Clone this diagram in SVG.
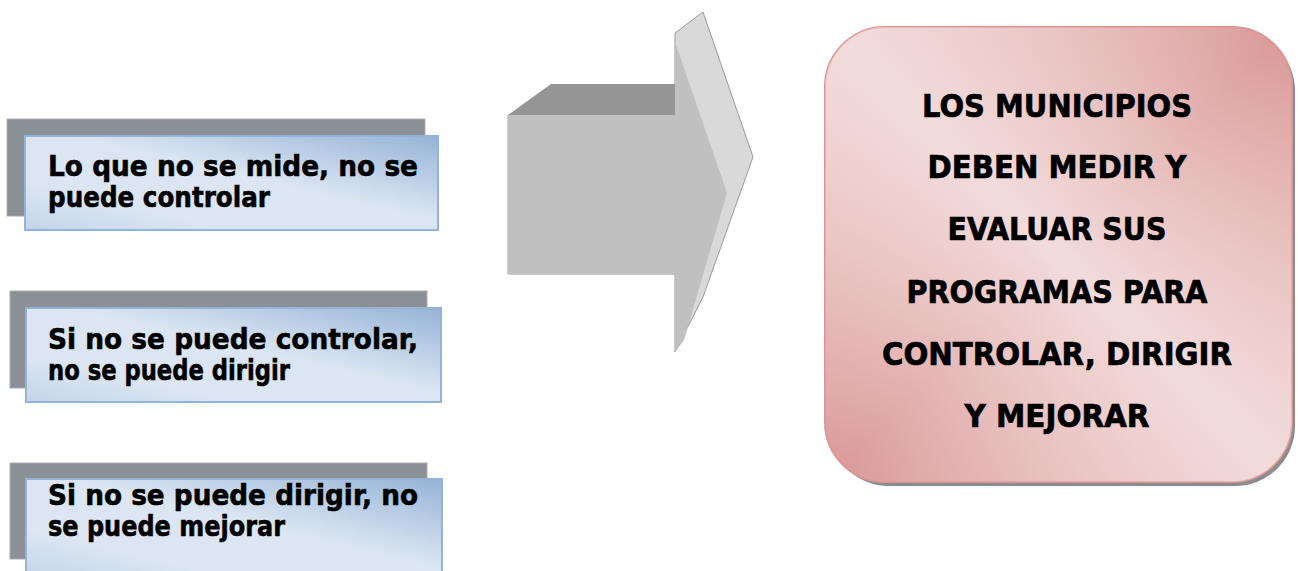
<svg xmlns="http://www.w3.org/2000/svg" width="1298" height="571" viewBox="0 0 1298 571">
<defs>
<linearGradient id="blue" x1="1" y1="0" x2="0" y2="1">
<stop offset="0" stop-color="#95b3d7"/>
<stop offset="0.45" stop-color="#dce6f2"/>
<stop offset="0.75" stop-color="#dce6f2"/>
<stop offset="1" stop-color="#c3d4e8"/>
</linearGradient>
<linearGradient id="pink" x1="1" y1="0" x2="0" y2="1">
<stop offset="0" stop-color="#d99694"/>
<stop offset="0.5" stop-color="#f2dcdb"/>
<stop offset="1" stop-color="#d99694"/>
</linearGradient>
<linearGradient id="pinkdiag" x1="0" y1="0" x2="1" y2="1">
<stop offset="0" stop-color="#f2dcdb" stop-opacity="0.6"/>
<stop offset="0.5" stop-color="#f2dcdb" stop-opacity="0"/>
<stop offset="1" stop-color="#f2dcdb" stop-opacity="0.5"/>
</linearGradient>
</defs>
<style>
.shadow{fill:#8b9096;stroke:#a9adb2;stroke-width:1}
.card{fill:url(#blue);stroke:#95b3d7;stroke-width:2}
.lt{font-family:"DejaVu Sans",sans-serif;font-weight:bold;font-size:28px;fill:#000;stroke:#000;stroke-width:0.6}
.rt{font-family:"DejaVu Sans",sans-serif;font-weight:bold;font-size:32px;fill:#000;stroke:#000;stroke-width:0.7;text-anchor:middle}
</style>
<rect width="1298" height="571" fill="#ffffff"/>

<g id="node1">
<rect class="shadow" x="7" y="119" width="418" height="97"/>
<rect class="card" x="25" y="136" width="413" height="94"/>
<text class="lt" x="48" y="176" textLength="370" lengthAdjust="spacingAndGlyphs">Lo que no se mide, no se</text>
<text class="lt" x="48" y="207" textLength="222" lengthAdjust="spacingAndGlyphs">puede controlar</text>
</g>

<g id="node2">
<rect class="shadow" x="10" y="291" width="417" height="97"/>
<rect class="card" x="26" y="308" width="415" height="94"/>
<text class="lt" x="48" y="349" textLength="370" lengthAdjust="spacingAndGlyphs">Si no se puede controlar,</text>
<text class="lt" x="48" y="380" textLength="242" lengthAdjust="spacingAndGlyphs">no se puede dirigir</text>
</g>

<g id="node3">
<rect class="shadow" x="10" y="463" width="417" height="96"/>
<rect class="card" x="26" y="479" width="416" height="100"/>
<text class="lt" x="48" y="505" textLength="370" lengthAdjust="spacingAndGlyphs">Si no se puede dirigir, no</text>
<text class="lt" x="48" y="536" textLength="237" lengthAdjust="spacingAndGlyphs">se puede mejorar</text>
</g>

<g id="connectors">
<g id="arrow">
<polygon points="508,115 675,115 675,33 703,12 753,157 703,297 675,352 675,274 508,274" fill="#d9d9d9" stroke="#9a9a9a" stroke-width="1"/>
<polygon points="508,115 675,115 675,42 727,193 684,340 675,352 675,274 508,274" fill="#c0c0c0"/>
<polygon points="508,115 551,84 675,84 675,115" fill="#959595"/>
</g>
</g>

<g id="node4">
<rect x="829" y="31" width="466" height="455" rx="60" ry="60" fill="#8c8c8c"/>
<rect x="825" y="27" width="467" height="455" rx="60" ry="60" fill="url(#pink)" stroke="#d99694" stroke-width="2"/>
<rect x="825" y="27" width="467" height="455" rx="60" ry="60" fill="url(#pinkdiag)"/>
<text class="rt" x="1057" y="117" textLength="270" lengthAdjust="spacingAndGlyphs">LOS MUNICIPIOS</text>
<text class="rt" x="1057" y="178" textLength="259" lengthAdjust="spacingAndGlyphs">DEBEN MEDIR Y</text>
<text class="rt" x="1057" y="240" textLength="219" lengthAdjust="spacingAndGlyphs">EVALUAR SUS</text>
<text class="rt" x="1057" y="303" textLength="301" lengthAdjust="spacingAndGlyphs">PROGRAMAS PARA</text>
<text class="rt" x="1057" y="365" textLength="350" lengthAdjust="spacingAndGlyphs">CONTROLAR, DIRIGIR</text>
<text class="rt" x="1057" y="427" textLength="185" lengthAdjust="spacingAndGlyphs">Y MEJORAR</text>
</g>
</svg>
